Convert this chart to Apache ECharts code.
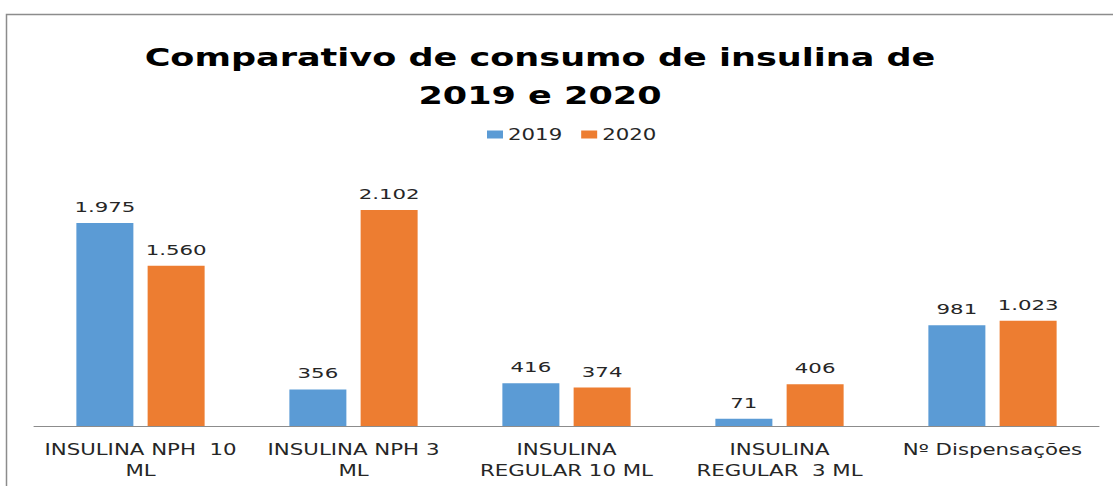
<!DOCTYPE html>
<html>
<head>
<meta charset="utf-8">
<script src="https://cdn.jsdelivr.net/npm/echarts@6/dist/echarts.min.js"></script>
<style>
  html, body { margin: 0; padding: 0; background: #fff; }
  #chart { width: 1113px; height: 486px; }
  #chart text { white-space: pre; }
</style>
</head>
<body>
<div id="chart"></div>
<script>
const categories = [
  'INSULINA NPH  10\nML',
  'INSULINA NPH 3\nML',
  'INSULINA\nREGULAR 10 ML',
  'INSULINA\nREGULAR  3 ML',
  'Nº Dispensações'
];
const seriesNames = ['2019', '2020'];
const values2019 = [1975, 356, 416, 71, 981];
const values2020 = [1560, 2102, 374, 406, 1023];
const titleText = 'Comparativo de consumo de insulina de\n2019 e 2020';

const fmt = v => v.toLocaleString('pt-BR');
const FONT = 'DejaVu Sans';
const TXT = '#262626';

const chart = echarts.init(document.getElementById('chart'), null, { renderer: 'svg' });
const labelCfg = {
  show: true,
  position: 'top',
  distance: 9,
  fontFamily: FONT,
  fontSize: 14,
  color: TXT,
  formatter: p => fmt(p.value)
};
chart.setOption({
  animation: false,
  backgroundColor: '#fff',
  title: {
    text: titleText,
    left: 540,
    top: 39,
    padding: 0,
    textAlign: 'center',
    textVerticalAlign: 'top',
    textStyle: { fontFamily: FONT, fontSize: 24, fontWeight: 'bold', color: '#000', lineHeight: 38 }
  },
  legend: {
    data: seriesNames,
    left: 487,
    top: 127,
    padding: 0,
    itemWidth: 16,
    itemHeight: 8,
    itemGap: 35,
    icon: 'rect',
    textStyle: { fontFamily: FONT, fontSize: 15, color: TXT }
  },
  graphic: [{
    type: 'rect',
    silent: true,
    shape: { x: 6.5, y: 14.5, width: 1300, height: 700 },
    style: { fill: 'none', stroke: '#8c8c8c', lineWidth: 1.5 },
    z: -10
  }],
  grid: { left: 34, right: 14, top: 169, bottom: 60, containLabel: false },
  xAxis: {
    type: 'category',
    data: categories,
    axisLine: { lineStyle: { color: '#8c8c8c', width: 1 } },
    axisTick: { show: false },
    axisLabel: { fontFamily: FONT, fontSize: 15, color: TXT, lineHeight: 21, margin: 13, interval: 0 }
  },
  yAxis: { type: 'value', min: 0, max: 2500, show: false, splitLine: { show: false } },
  series: [
    { name: seriesNames[0], type: 'bar', data: values2019, barWidth: 57, barGap: '25%',
      itemStyle: { color: '#5B9BD5' }, label: labelCfg },
    { name: seriesNames[1], type: 'bar', data: values2020, barWidth: 57, barGap: '25%',
      itemStyle: { color: '#ED7D31' }, label: labelCfg }
  ]
});

function stretchText() {
  document.querySelectorAll('#chart svg text').forEach(t => {
    const fs = parseFloat(getComputedStyle(t).fontSize);
    let f = 1.42;
    if (fs >= 20) f = 1.46;
    else if (fs < 14.5) f = 1.52;
    const w = t.getComputedTextLength();
    if (t.dataset.nat && Math.abs(parseFloat(t.getAttribute('textLength')) - w) < 0.5) return;
    if (!(w > 0)) return;
    t.dataset.nat = w;
    t.setAttribute('lengthAdjust', 'spacingAndGlyphs');
    t.setAttribute('textLength', (w * f).toFixed(2));
  });
}
stretchText();
chart.on('finished', stretchText);
</script>
</body>
</html>
